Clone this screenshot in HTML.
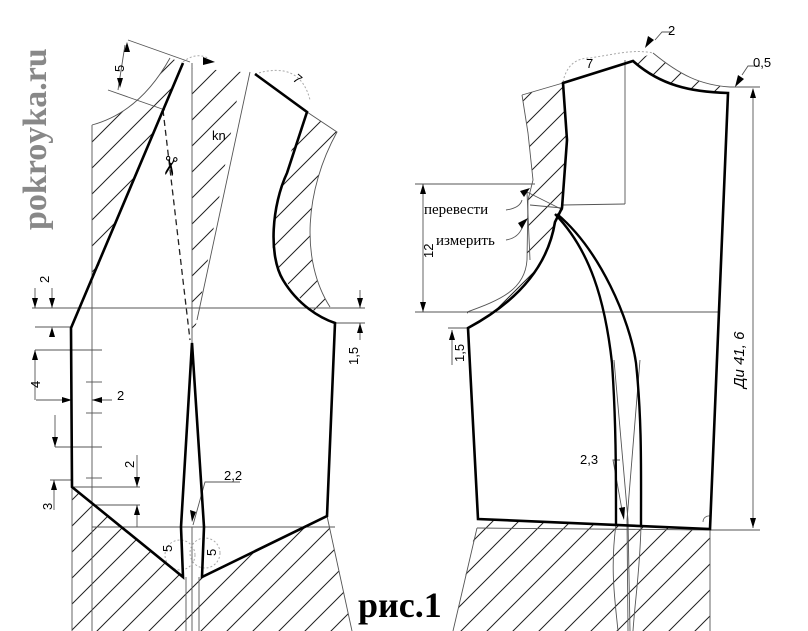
<!DOCTYPE html>
<html><head><meta charset="utf-8"><style>
html,body{margin:0;padding:0;background:#fff;}
svg{display:block;}
.s{font-family:"Liberation Sans",sans-serif;}
.r{font-family:"Liberation Serif",serif;}
</style></head><body>
<svg width="808" height="631" viewBox="0 0 808 631" xmlns="http://www.w3.org/2000/svg">
<defs>
<pattern id="h" patternUnits="userSpaceOnUse" width="26" height="26">
<path d="M-2,28 L28,-2 M-2,2 L2,-2 M24,28 L28,24" stroke="#222" stroke-width="1"/>
</pattern>
</defs>
<rect width="808" height="631" fill="#fff"/>

<text class="r" x="0" y="0" transform="translate(46,230) rotate(-90)" font-weight="bold" font-size="34" fill="#888">pokroyka.ru</text>

<path d="M92,125 L92,282 L183,63 L170,58 Q140,112 92,125 Z" fill="url(#h)"/>
<path d="M192,68 L242,72 L197,320 L192,343 Z" fill="url(#h)"/>
<path d="M307,112 L337,132 C305,190 300,260 330,307 L320,315 C290,295 268,260 273,233 C276,190 290,150 307,112 Z" fill="url(#h)"/>
<path d="M72,487 L183,577 L181,527 L192,343 L204,527 L202,577 L327,516 L352,631 L72,631 Z" fill="url(#h)"/>
<path d="M183,577 L181,527 L192,343 L204,527 L202,577 Z" fill="#fff"/>

<g stroke="#555" stroke-width="0.9" fill="none">
<line x1="32" y1="308" x2="363" y2="308"/>
<line x1="92" y1="527" x2="335" y2="527"/>
<line x1="92" y1="125" x2="92" y2="631"/>
<line x1="72" y1="487" x2="72" y2="631"/>
<line x1="192" y1="63" x2="192" y2="343"/>
<line x1="186" y1="577" x2="186" y2="631"/>
<line x1="192" y1="527" x2="192" y2="631"/>
<line x1="199" y1="577" x2="199" y2="631"/>
<line x1="250" y1="72" x2="197" y2="320"/>
<line x1="327" y1="516" x2="352" y2="631"/>
<path d="M92,125 Q140,112 170,58"/>
<path d="M307,112 L337,132 C305,190 300,260 330,307"/>
<line x1="128" y1="40" x2="190" y2="62"/>
<line x1="108" y1="90" x2="165" y2="110"/>
<line x1="320" y1="308" x2="365" y2="308"/>
<line x1="336" y1="323" x2="365" y2="323"/>
<line x1="35" y1="350" x2="102" y2="350"/>
<line x1="55" y1="447" x2="102" y2="447"/>
<line x1="35" y1="327" x2="72" y2="327"/>
<line x1="72" y1="487" x2="140" y2="487"/>
<line x1="92" y1="505" x2="140" y2="505"/>
<line x1="50" y1="480" x2="72" y2="480"/>
<line x1="36" y1="400" x2="72" y2="400"/>
<line x1="92" y1="400" x2="112" y2="400"/>
<line x1="35" y1="288" x2="35" y2="308"/>
<line x1="52" y1="288" x2="52" y2="308"/>
<line x1="35" y1="350" x2="35" y2="400"/>
<line x1="55" y1="415" x2="55" y2="447"/>
<line x1="137" y1="455" x2="137" y2="487"/>
<line x1="137" y1="505" x2="137" y2="527"/>
<line x1="54" y1="480" x2="54" y2="510"/>
<line x1="360" y1="290" x2="360" y2="308"/>
<line x1="360" y1="323" x2="360" y2="340"/>
<line x1="125" y1="45" x2="118" y2="90"/>
<path d="M193,525 L205,482 L240,482"/>
</g>
<g stroke="#555" stroke-width="0.9">
<line x1="86" y1="382" x2="102" y2="382"/><line x1="86" y1="413" x2="102" y2="413"/><line x1="86" y1="478" x2="102" y2="478"/>
</g>
<g fill="#000">
<path d="M35,308 l-3,-10 h6z"/><path d="M52,308 l-3,-10 h6z"/>
<path d="M52,327 l-3,10 h6z"/>
<path d="M35,350 l-3,10 h6z"/>
<path d="M72,400 l-10,-3 v6z"/><path d="M92,400 l10,-3 v6z"/>
<path d="M55,447 l-3,-10 h6z"/>
<path d="M137,487 l-3,-10 h6z"/><path d="M137,505 l-3,10 h6z"/>
<path d="M54,480 l-3,10 h6z"/>
<path d="M360,308 l-3,-10 h6z"/><path d="M360,323 l-3,10 h6z"/>
<path d="M192,522 l-2,-12 l6,2z"/>
<path d="M127,42 l-3,10 h6z"/><path d="M120,88 l-3,-10 h6z"/>
<path d="M215,62 l-12,-5 l0,8z"/>
</g>
<line x1="163" y1="110" x2="190" y2="340" stroke="#222" stroke-width="1.3" stroke-dasharray="6,4"/>
<g stroke="#aaa" stroke-width="1" fill="none" stroke-dasharray="2,2">
<path d="M255,74 Q300,60 310,100"/>
<path d="M183,62 Q195,52 208,58"/>
<circle cx="180" cy="555" r="15"/>
<circle cx="205" cy="553" r="15"/>
</g>
<text class="s" x="170" y="175" font-size="26" text-anchor="middle" transform="rotate(100 170 166)">✂</text>

<path d="M183,63 L71,328 L72,487 L183,577 L181,527 L192,343 L204,527 L202,577 L327,516 L335,323 C320,318 298,305 283,280 C268,255 272,205 287,173 L307,112 L255,74" fill="none" stroke="#000" stroke-width="2.6"/>

<g class="s" font-size="13" fill="#000">
<text x="212" y="140">kn</text>
<text transform="translate(124,72) rotate(-90)">5</text>
<text transform="translate(49,283) rotate(-90)">2</text>
<text transform="translate(40,388) rotate(-90)">4</text>
<text x="117" y="400">2</text>
<text transform="translate(134,468) rotate(-90)">2</text>
<text transform="translate(52,510) rotate(-90)">3</text>
<text x="224" y="480">2,2</text>
<text transform="translate(172,552) rotate(-90)">5</text>
<text transform="translate(216,556) rotate(-90)">5</text>
<text transform="translate(358,365) rotate(-90)">1,5</text>
<text x="292" y="80" transform="rotate(40 292 80)">7</text>
</g>

<path d="M522,95 L563,83 L567,140 L562,208 L555,222 C548,265 520,300 468,329 L467,312 C500,300 525,290 527,260 L528,200 L533,180 L528,133 Z" fill="url(#h)"/>
<path d="M633,61 L653,53 C680,75 700,85 730,87 L728,93 C690,92 660,85 633,61 Z" fill="url(#h)"/>
<path d="M478,519 L616,524 L710,529 L710,631 L453,631 Z" fill="url(#h)"/>

<g stroke="#555" stroke-width="0.9" fill="none">
<path d="M522,95 L563,83"/>
<path d="M522,95 L528,133 L533,180 L528,200 L527,260 C525,290 500,300 467,312"/>
<path d="M653,53 C680,75 700,85 730,87"/>
<line x1="415" y1="312" x2="720" y2="312"/>
<line x1="415" y1="184" x2="535" y2="184"/>
<line x1="625" y1="60" x2="625" y2="204"/>
<line x1="563" y1="205" x2="625" y2="204"/>
<line x1="527" y1="192" x2="563" y2="210"/>
<line x1="527" y1="192" x2="530" y2="260"/>
<line x1="530" y1="205" x2="562" y2="208"/>
<line x1="730" y1="87" x2="760" y2="87"/>
<line x1="710" y1="530" x2="760" y2="530"/>
<line x1="477" y1="528" x2="710" y2="530"/>
<line x1="710" y1="529" x2="710" y2="631"/>
<line x1="477" y1="528" x2="453" y2="631"/>
<line x1="423" y1="184" x2="423" y2="312"/>
<line x1="753" y1="90" x2="753" y2="528"/>
<line x1="452" y1="330" x2="452" y2="365"/>
<line x1="448" y1="328" x2="467" y2="328"/>
<path d="M614,360 L628,520 L630,631"/>
<path d="M640,360 L627,520 L628,631"/>
<path d="M616,524 C610,570 615,600 618,631"/>
<path d="M641,525 C640,570 635,600 633,631"/>
<path d="M506,210 Q520,208 522,200"/>
<path d="M506,240 Q518,238 522,228"/>
<path d="M620,460 L613,460 L622,510"/>
<path d="M742,75 L748,66 L760,66"/>
<path d="M655,40 L662,32 L672,32"/>
</g>
<g fill="#000">
<path d="M423,184 l-3,10 h6z"/><path d="M423,312 l-3,-10 h6z"/>
<path d="M753,88 l-3,10 h6z"/><path d="M753,528 l-3,-10 h6z"/>
<path d="M452,330 l-3,10 h6z"/>
<path d="M530,188 l-10,3 l4,6z"/>
<path d="M528,218 l-10,5 l4,6z"/>
<path d="M624,520 l-5,-12 l6,-1z"/>
<path d="M735,87 l3,-12 l6,4z"/>
<path d="M645,48 l3,-12 l6,4z"/>
</g>
<g stroke="#aaa" stroke-width="1" fill="none" stroke-dasharray="2,2">
<path d="M563,82 Q568,58 590,58 L620,53 Q640,50 653,53"/>
</g>
<path d="M703,522 a6,6 0 0 1 7,-6" stroke="#555" stroke-width="0.8" fill="none"/>

<path d="M563,83 L633,61 C660,85 690,92 728,93 L710,529 L478,519 L468,328 C520,300 548,265 555,222 L562,208 L567,140 Z" fill="none" stroke="#000" stroke-width="2.6"/>
<path d="M555,214 C590,250 605,300 612,363 C616,420 616,470 616,524" fill="none" stroke="#000" stroke-width="2.4"/>
<path d="M557,214 C600,250 630,320 636,363 C642,420 641,470 641,525" fill="none" stroke="#000" stroke-width="2.4"/>

<g class="s" font-size="13" fill="#000">
<text x="586" y="68">7</text>
<text x="668" y="35">2</text>
<text x="753" y="67">0,5</text>
<text transform="translate(433,258) rotate(-90)">12</text>
<text transform="translate(464,362) rotate(-90)">1,5</text>
<text x="580" y="464">2,3</text>
<text transform="translate(744,388) rotate(-90)" font-style="italic" font-size="15">Ди 41, 6</text>
</g>
<g class="r" font-size="15" fill="#000">
<text x="424" y="214">перевести</text>
<text x="436" y="245">измерить</text>
</g>
<text class="r" x="358" y="617" font-weight="bold" font-size="36" fill="#000">рис.1</text>
</svg>
</body></html>
